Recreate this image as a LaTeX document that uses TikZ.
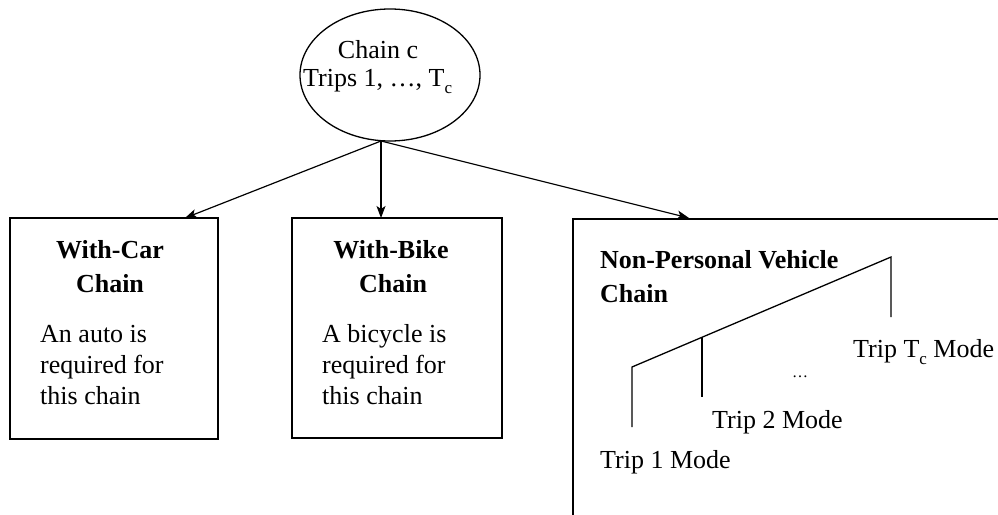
\documentclass[tikz,border=0pt]{standalone}
\usepackage{fontspec}
\setmainfont{Liberation Serif}
\usetikzlibrary{arrows.meta,shapes.geometric}
\newcommand\mysub[1]{\raisebox{-7pt}{\fontsize{17}{17}\selectfont #1}}
\begin{document}
\begin{tikzpicture}[x=1pt,y=-1pt,
  box/.style={draw, line width=1.6pt, inner sep=0pt},
  conn/.style={line width=1.2pt, -{Stealth[length=12pt,width=9pt,inset=3pt]}},
  tree/.style={line width=1.3pt},
  txt/.style={inner sep=0pt, font=\fontsize{26}{31}\selectfont},
  hd/.style={inner sep=0pt, font=\fontsize{26}{31}\selectfont\bfseries},
]
\useasboundingbox (0,0) rectangle (998,514);
\clip (0,0) rectangle (998,514);
\fill[white] (0,0) rectangle (998,514);

% source ellipse
\node[draw, ellipse, line width=1.3pt, minimum width=180pt, minimum height=132pt, inner sep=0pt] (ell) at (390,75) {};
\node[txt, anchor=base] (ct1) at (378,58) {Chain c};
\node[txt, anchor=base west] (ct2) at (303,86) {Trips 1, …, T\mysub{c}};

% boxes
\node[box, minimum width=208pt, minimum height=221pt] (b1) at (114,328.5) {};
\node[box, minimum width=210pt, minimum height=220pt] (b2) at (397,328) {};
\node[box, minimum width=440pt, minimum height=320pt, anchor=north west] (b3) at (572,218) {};

% arrows
\coordinate (src) at (381,141);
\coordinate (a1) at (185,218);
\coordinate (a2) at (381,218);
\coordinate (a3) at (689,218);
\draw[conn] (src) -- (a1);
\draw[conn] (src) -- (a2);
\draw[conn] (src) -- (a3);

% box 1 text
\node[hd, anchor=base] (h1a) at (110,258) {With-Car};
\node[hd, anchor=base] (h1b) at (110,292) {Chain};
\node[txt, anchor=base west] (t1a) at (40,342) {An auto is};
\node[txt, anchor=base west] (t1b) at (40,373) {required for};
\node[txt, anchor=base west] (t1c) at (40,404) {this chain};

% box 2 text
\node[hd, anchor=base] (h2a) at (391,258) {With-Bike};
\node[hd, anchor=base] (h2b) at (393,292) {Chain};
\node[txt, anchor=base west] (t2a) at (322,342) {A bicycle is};
\node[txt, anchor=base west] (t2b) at (322,373) {required for};
\node[txt, anchor=base west] (t2c) at (322,404) {this chain};

% box 3 text
\node[hd, anchor=base west] (h3a) at (600,268) {Non-Personal Vehicle};
\node[hd, anchor=base west] (h3b) at (600,302) {Chain};

% tree
\coordinate (p1) at (632,367);
\coordinate (p2) at (702,337.3);
\coordinate (p3) at (891,257);
\coordinate (q1) at (632,427);
\coordinate (q2) at (702,397);
\coordinate (q3) at (891,317);
\draw[tree] (q1) -- (p1) -- (p3) -- (q3);
\draw[tree] (p2) -- (q2);

\node[txt, anchor=base west] (m1) at (600,468) {Trip 1 Mode};
\node[txt, anchor=base west] (m2) at (712,428) {Trip 2 Mode};
\node[inner sep=0pt, anchor=base, font=\fontsize{16}{16}\selectfont] (dots) at (800,377) {…};
\node[txt, anchor=base west] (m3) at (853,357) {Trip T\mysub{c} Mode};
\end{tikzpicture}
\end{document}
